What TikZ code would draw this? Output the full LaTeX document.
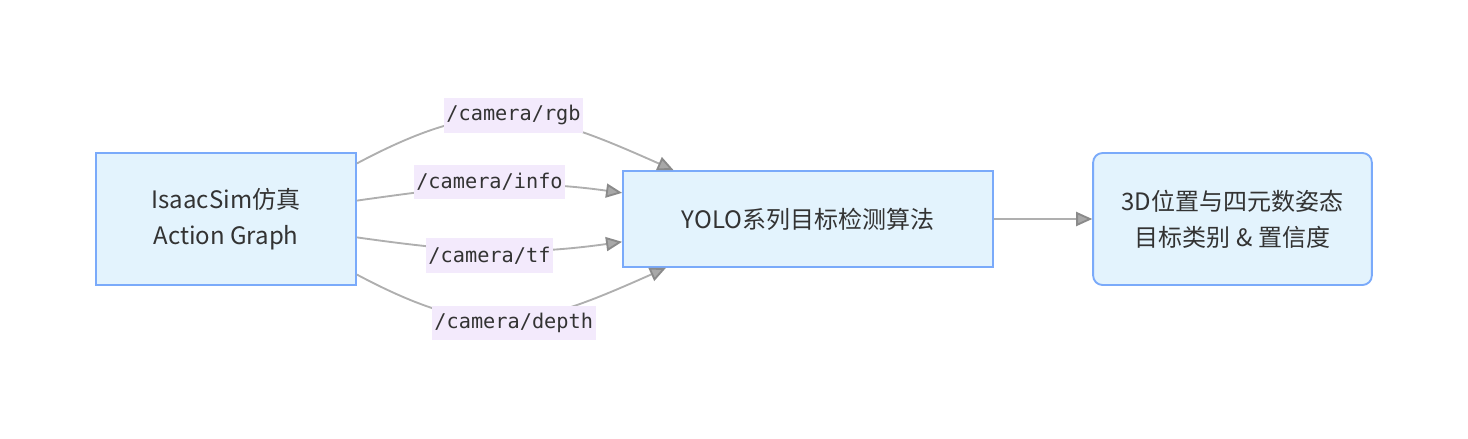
\documentclass[tikz,border=0pt]{standalone}
\usepackage{fontspec}
\setmainfont{Noto Sans CJK SC}
\newfontfamily\topicfont{DejaVu Sans Mono}
\usetikzlibrary{arrows.meta}
\definecolor{boxfill}{RGB}{227,243,253}
\definecolor{boxline}{RGB}{122,170,250}
\definecolor{lblfill}{RGB}{243,234,252}
\definecolor{edgegray}{RGB}{175,175,175}
\definecolor{tipfill}{RGB}{168,168,168}
\definecolor{tipline}{RGB}{138,138,138}
\definecolor{txt}{RGB}{51,51,51}

\begin{document}
\begin{tikzpicture}[x=0.75pt, y=0.75pt,
    every node/.style={text=txt},
    stage/.style={draw=boxline, fill=boxfill, line width=1.4pt, align=center,
        font=\fontsize{18}{27}\selectfont},
    topic/.style={fill=lblfill, inner sep=2pt, minimum height=26pt,
        font=\topicfont\fontsize{15.2}{18}\selectfont},
    feed/.style={draw=edgegray, line width=1.4pt,
        -{Triangle[length=12pt, width=10.5pt, fill=tipfill, color=tipline]}}]
    \useasboundingbox (0,0) rectangle (1468,-439);

    % stages
    \node[stage, minimum width=195pt, minimum height=99pt] (isaac) at (226,-219)
        {IsaacSim仿真\\Action Graph};
    \node[stage, minimum width=277.5pt, minimum height=72pt] (yolo) at (808,-219)
        {YOLO系列目标检测算法};
    \node[stage, rounded corners=7pt, minimum width=209pt, minimum height=99pt] (result) at (1232.5,-219)
        {3D位置与四元数姿态\\目标类别 \& 置信度};

    % camera topics
    \draw[feed] (isaac.23.7) to[out=28, in=156, looseness=1.2]
        node[topic, midway, yshift=2pt] (lrgb) {/camera/rgb} (yolo.160.6);
    \draw[feed] (isaac.8.3) to[out=8, in=172]
        node[topic, midway, yshift=3pt] (linfo) {/camera/info} (yolo.172.6);
    \draw[feed] (isaac.-8.3) to[out=-8, in=188]
        node[topic, midway, yshift=-4pt] (ltf) {/camera/tf} (yolo.187.4);
    \draw[feed] (isaac.-23.7) to[out=-28, in=204, looseness=1.2]
        node[topic, midway, xshift=3pt, yshift=-3pt] (ldepth) {/camera/depth} (yolo.199.4);

    \draw[feed] (yolo) -- (result);
\end{tikzpicture}
\end{document}
